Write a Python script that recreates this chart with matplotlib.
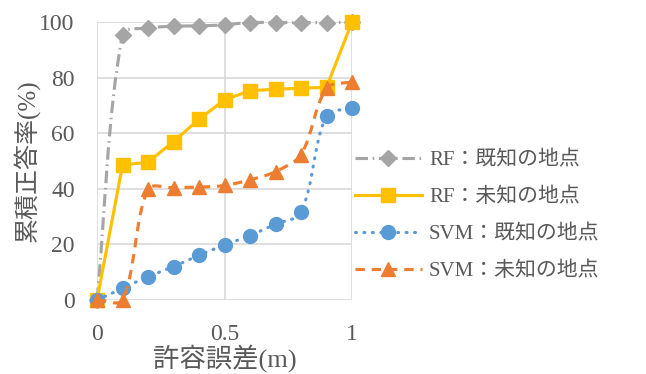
import matplotlib
matplotlib.use('Agg')
import matplotlib.pyplot as plt
from matplotlib.path import Path
from matplotlib.patches import PathPatch
from matplotlib.lines import Line2D
import numpy as np

plt.rcParams['font.family'] = ['Liberation Serif', 'Noto Sans CJK JP']

# 許容誤差 [m]
err_m = [0.0, 0.1, 0.2, 0.3, 0.4, 0.5, 0.6, 0.7, 0.8, 0.9, 1.0]
# 累積正答率 [%]
rf_known = [0, 95.5, 97.8, 98.5, 98.6, 99.0, 99.8, 99.8, 99.8, 99.8, 100]
rf_unknown = [0, 48.5, 49.6, 57.0, 65.0, 72.0, 75.3, 75.8, 76.2, 76.5, 100]
svm_known = [0, 4.2, 8.4, 12.0, 16.1, 19.8, 23.2, 27.3, 31.5, 66.3, 69.0]
svm_unknown = [0, 0, 39.8, 40.4, 40.6, 41.2, 43.2, 46.2, 52.3, 76.1, 78.5]

labels = ['RF：既知の地点', 'RF：未知の地点', 'SVM：既知の地点', 'SVM：未知の地点']
colors = ['#A5A5A5', '#FFC000', '#5B9BD5', '#ED7D31']

# 軸の px あたりスケール (平滑線の制御点計算用)
SX, SY = 255.0, 2.78


def smooth_path(xs, ys, t=1 / 3):
    # 平滑線: 区間長で重み付けしたベジェ曲線
    pts = np.column_stack([xs, ys]).astype(float)
    scale = np.array([SX, SY])
    n = len(pts)

    def seglen(a, b):
        return np.hypot(*((pts[b] - pts[a]) * scale))

    tan_in, tan_out = [], []
    for i in range(n):
        p0 = pts[max(i - 1, 0)]
        p2 = pts[min(i + 1, n - 1)]
        d = p2 - p0
        l_in = seglen(i - 1, i) if i > 0 else 0.0
        l_out = seglen(i, i + 1) if i < n - 1 else 0.0
        tot = l_in + l_out
        if tot == 0:
            tan_in.append(np.zeros(2))
            tan_out.append(np.zeros(2))
            continue
        tan_in.append(d * t * l_in / tot)
        tan_out.append(d * t * l_out / tot)

    verts = [pts[0]]
    codes = [Path.MOVETO]
    for i in range(n - 1):
        verts += [pts[i] + tan_out[i], pts[i + 1] - tan_in[i + 1], pts[i + 1]]
        codes += [Path.CURVE4] * 3
    return Path(verts, codes)


fig = plt.figure(figsize=(6.46, 3.74), dpi=100)
ax = fig.add_axes([97 / 646, 1 - 300 / 374, 255 / 646, 278 / 374])

lw = 2.25
styles = [
    dict(ls=(0, (4, 1.5, 0.5, 1.5)), marker='D', ms=8, smooth=True, cap='butt'),
    dict(ls='-', marker='s', ms=10, smooth=False, cap='butt'),
    dict(ls=(0, (0.3, 2.4)), marker='o', ms=10, smooth=True, cap='round'),
    dict(ls=(0, (3, 2.2)), marker='^', ms=10, smooth=True, cap='butt'),
]
series = [rf_known, rf_unknown, svm_known, svm_unknown]

handles = []
for k, (ys, st, c, lab) in enumerate(zip(series, styles, colors, labels)):
    z = 3 + k
    if st['smooth']:
        patch = PathPatch(smooth_path(err_m, ys), fill=False, edgecolor=c,
                          linewidth=lw, linestyle=st['ls'], zorder=z,
                          capstyle=st['cap'], clip_on=False)
        ax.add_patch(patch)
    else:
        ax.plot(err_m, ys, color=c, lw=lw, ls=st['ls'], zorder=z, clip_on=False)
    ax.plot(err_m, ys, ls='none', marker=st['marker'], ms=st['ms'], color=c,
            mec=c, zorder=z, clip_on=False)
    handles.append(Line2D([], [], color=c, lw=lw, ls=st['ls'],
                          dash_capstyle=st['cap'], marker=st['marker'],
                          ms=st['ms'], label=lab))

ax.set_xlim(0, 1)
ax.set_ylim(0, 100)
ax.set_xticks([0, 0.5, 1])
ax.set_xticklabels(['0', '0.5', '1'])
ax.set_yticks([0, 20, 40, 60, 80, 100])
ax.grid(True, color='#D9D9D9', lw=1.2, zorder=0)
ax.set_axisbelow(True)
for s in ax.spines.values():
    s.set_visible(False)
ax.tick_params(length=0, labelsize=17, labelcolor='#595959')
ax.tick_params(axis='x', pad=17)
ax.tick_params(axis='y', pad=16)

ax.set_xlabel('許容誤差(m)', fontsize=19, color='#595959', labelpad=0)
ax.set_ylabel('累積正答率(%)', fontsize=18, color='#595959', labelpad=0)

fig.legend(handles=handles, loc='center left',
           bbox_to_anchor=(355 / 646, 1 - 216 / 374), frameon=False,
           fontsize=15, labelspacing=0.83, handlelength=3.2,
           handletextpad=0.35, borderpad=0, borderaxespad=0,
           labelcolor='#595959')

fig.savefig('out.png', dpi=100)
